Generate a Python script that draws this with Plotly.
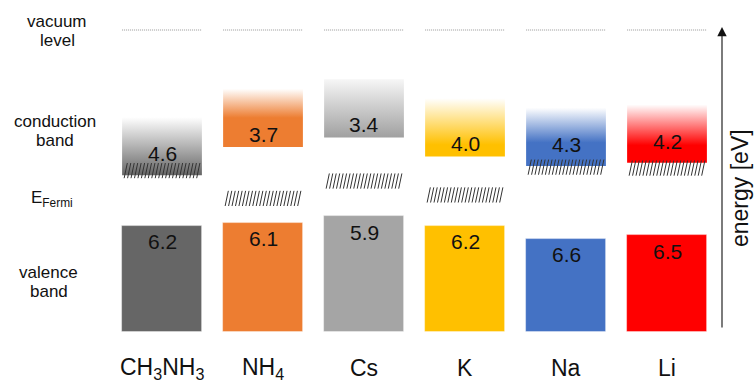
import plotly.graph_objects as go

# ---------------- data ----------------
categories = ["CH<sub>3</sub>NH<sub>3</sub>", "NH<sub>4</sub>", "Cs", "K", "Na", "Li"]
conduction = [4.6, 3.7, 3.4, 4.0, 4.3, 4.2]      # conduction band minimum [eV below vacuum]
valence = [6.2, 6.1, 5.9, 6.2, 6.6, 6.5]         # valence band maximum [eV below vacuum]
fermi = [4.45, 5.33, 4.78, 5.22, 4.34, 4.37]     # Fermi level [eV below vacuum]
vacuum = 0.0

# ---------------- styles ----------------
solid = ["#666666", "#ED7D31", "#A5A5A5", "#FFC000", "#4472C4", "#FF0000"]
grad = [
    [[0, "#ffffff"], [1, "#666666"]],
    [[0, "#ffffff"], [0.5, "#ED7D31"], [1, "#ED7D31"]],
    [[0, "#f6f6f6"], [1, "#a0a0a0"]],
    [[0, "#ffffff"], [0.8, "#FFC000"], [1, "#FFC000"]],
    [[0, "#ffffff"], [0.6, "#4472C4"], [1, "#4472C4"]],
    [[0, "#ffffff"], [0.7, "#FF0000"], [1, "#FF0000"]],
]
FONT = "Liberation Sans, Arial, sans-serif"
INK = "#111111"

W, H = 755, 383
X0PX, XSTEP = 162, 101      # pixel of first column centre, column pitch
Y0PX, YSCALE = 30, 31.6     # pixel of vacuum level, pixels per eV
BW = 0.79                   # box width (column units)
CB_H = 1.84                 # drawn conduction band height [eV]
VB_BOTTOM = 9.56            # drawn bottom of valence boxes [eV]
HATCH_H = 0.48
N_HATCH = 22


def px2x(p):
    return (p - X0PX) / XSTEP


def px2y(p):
    return (p - Y0PX) / YSCALE


fig = go.Figure()

n = len(categories)
xs = list(range(n))

# valence bands
fig.add_trace(go.Bar(
    x=xs, y=[VB_BOTTOM - v for v in valence], base=valence, width=BW,
    marker=dict(color=solid, line=dict(width=0.8, color="rgba(255,255,255,0.5)")),
    hoverinfo="skip", showlegend=False,
))

# conduction bands with gradient
for i, ec in enumerate(conduction):
    top = ec - CB_H
    fig.add_trace(go.Scatter(
        x=[i - BW / 2, i + BW / 2, i + BW / 2, i - BW / 2, i - BW / 2],
        y=[top, top, ec, ec, top],
        mode="lines", line=dict(width=0), fill="toself",
        fillgradient=dict(type="vertical", colorscale=grad[i], start=top, stop=ec),
        hoverinfo="skip", showlegend=False,
    ))

# vacuum level dotted lines
vx, vy = [], []
for i in xs:
    vx += [i - BW / 2, i + BW / 2, None]
    vy += [vacuum, vacuum, None]
fig.add_trace(go.Scatter(x=vx, y=vy, mode="lines",
                         line=dict(color="#8c8c8c", width=0.9, dash="1px,1px"),
                         hoverinfo="skip", showlegend=False))

# Fermi level hatching
hx, hy = [], []
slant = 3.2 / XSTEP
span = BW - 0.04
for i, ef in enumerate(fermi):
    left = i - span / 2
    step = (span - slant) / (N_HATCH - 1)
    for k in range(N_HATCH):
        x0 = left + k * step
        hx += [x0, x0 + slant, None]
        hy += [ef + HATCH_H / 2, ef - HATCH_H / 2, None]
fig.add_trace(go.Scatter(x=hx, y=hy, mode="lines",
                         line=dict(color="#333333", width=1),
                         hoverinfo="skip", showlegend=False))

annotations = []
vfont = dict(family=FONT, size=21, color=INK)
for i in xs:
    ec, ev, ef = conduction[i], valence[i], fermi[i]
    off = 0.68 if abs(ef - ec) < 0.2 else (0.6 if abs(ef - ec) < 0.3 else 0.4)
    annotations.append(dict(x=i, y=ec - off, text=f"{ec:.1f}", showarrow=False,
                            font=vfont, xref="x", yref="y",
                            xanchor="center", yanchor="middle"))
    annotations.append(dict(x=i, y=ev + 0.5, text=f"{ev:.1f}", showarrow=False,
                            font=vfont, xref="x", yref="y",
                            xanchor="center", yanchor="middle"))
    annotations.append(dict(x=i, y=1 - 368 / H, text=categories[i], showarrow=False,
                            font=dict(family=FONT, size=23, color=INK),
                            xref="x", yref="paper", xanchor="center", yanchor="middle"))

lfont = dict(family=FONT, size=17, color=INK)
left_labels = [("vacuum", 57, 21), ("level", 57, 41), ("conduction", 55, 121),
               ("band", 55, 140), ("E<sub>Fermi</sub>", 52, 199),
               ("valence", 48, 272), ("band", 49, 291)]
for t, lx, ly in left_labels:
    annotations.append(dict(x=lx / W, y=1 - ly / H, text=t, showarrow=False, font=lfont,
                            xref="paper", yref="paper", xanchor="center", yanchor="middle"))

# energy axis arrow
annotations.append(dict(x=px2x(722), y=px2y(27), ax=px2x(722), ay=px2y(329),
                        xref="x", yref="y", axref="x", ayref="y", text="",
                        showarrow=True, arrowhead=2, arrowsize=1.7, arrowwidth=1.1,
                        arrowcolor=INK))
annotations.append(dict(x=740 / W, y=1 - 188 / H, text="energy [eV]", textangle=-90,
                        showarrow=False, xref="paper", yref="paper",
                        xanchor="center", yanchor="middle",
                        font=dict(family=FONT, size=23, color=INK)))

fig.update_layout(
    width=W, height=H, margin=dict(l=0, r=0, t=0, b=0),
    paper_bgcolor="white", plot_bgcolor="white",
    xaxis=dict(range=[px2x(0), px2x(W)], visible=False, fixedrange=True),
    yaxis=dict(range=[px2y(H), px2y(0)], visible=False, fixedrange=True),
    annotations=annotations, bargap=0,
)

fig.write_html("out.html", config={"displayModeBar": False},
               post_script="document.body.style.margin='0';")
